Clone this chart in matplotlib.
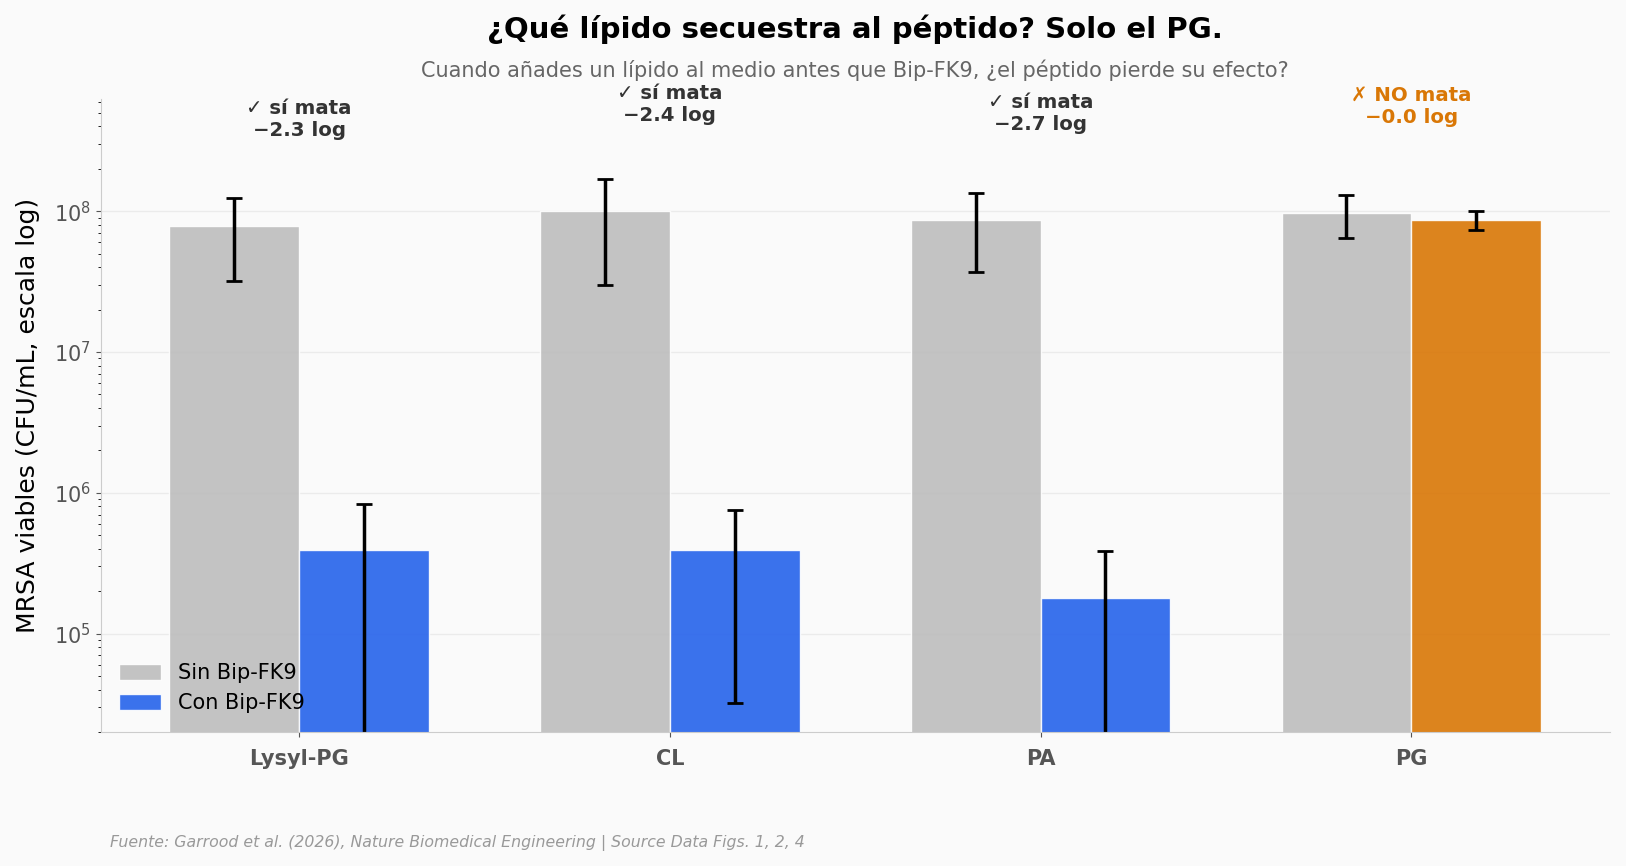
import numpy as np
import matplotlib
matplotlib.use("Agg")
import matplotlib.pyplot as plt

# data
lipids = ["Lysyl-PG", "CL", "PA", "PG"]
sin_mean = [7.8e7, 1.0e8, 8.6e7, 9.7e7]
sin_sd = [4.6e7, 7.0e7, 4.9e7, 3.3e7]
con_mean = [3.9e5, 3.92e5, 1.78e5, 8.7e7]
con_sd = [4.4e5, 3.6e5, 2.1e5, 1.35e7]

GRAY = "#BDBDBD"
BLUE = "#2563EB"
ORANGE = "#D97706"
BG = "#FAFAFA"

plt.rcParams["font.family"] = ["DejaVu Sans"]

fig = plt.figure(figsize=(16.26, 8.66), dpi=100, facecolor=BG)
ax = fig.add_axes([0.0619, 0.1547, 0.9281, 0.7315])
ax.set_facecolor(BG)

x = np.arange(len(lipids))
w = 0.35
con_colors = [ORANGE if l == "PG" else BLUE for l in lipids]

err_kw = dict(elinewidth=2.5, capsize=6, capthick=2, ecolor="black")
ax.bar(x - w / 2, sin_mean, w, yerr=sin_sd, color=GRAY, alpha=0.9,
       edgecolor="white", linewidth=1, label="Sin Bip-FK9", error_kw=err_kw)
ax.bar(x + w / 2, con_mean, w, yerr=con_sd, color=con_colors, alpha=0.9,
       edgecolor="white", linewidth=1, label="Con Bip-FK9", error_kw=err_kw)

ax.set_yscale("log")
ax.set_ylim(2.0e4, 6.3e8)
ax.yaxis.grid(True, which="major", color="#EBEBEB", linewidth=1)
ax.set_axisbelow(True)

# annotations: log reduction
for i, l in enumerate(lipids):
    red = np.log10(sin_mean[i] / con_mean[i])
    if red > 0.5:
        txt = f"\u2713 sí mata\n\u2212{red:.1f} log"
        c = "#333333"
    else:
        txt = f"\u2717 NO mata\n\u2212{red:.1f} log"
        c = ORANGE
    ax.text(x[i], sin_mean[i] * 5.7, txt, ha="center", va="center",
            fontsize=14.2, fontweight="bold", color=c, linespacing=1.2)

ax.set_xticks(x)
ax.set_xticklabels(lipids, fontsize=15, fontweight="bold", color="#555555")
ax.tick_params(axis="y", labelsize=15, labelcolor="#555555", color="#555555")
ax.tick_params(axis="x", color="#555555", pad=9)
ax.set_ylabel("MRSA viables (CFU/mL, escala log)", fontsize=18, labelpad=10)

for s in ["top", "right"]:
    ax.spines[s].set_visible(False)
for s in ["left", "bottom"]:
    ax.spines[s].set_color("#CCCCCC")

leg = ax.legend(loc="lower left", frameon=False, fontsize=15,
                handlelength=2.0, handleheight=0.8, borderaxespad=0.5)

cx = 0.0619 + 0.9281 / 2
fig.text(cx, 0.9665, "¿Qué lípido secuestra al péptido? Solo el PG.",
         ha="center", va="center", fontsize=21, fontweight="bold")
fig.text(cx, 0.9186, "Cuando añades un lípido al medio antes que Bip-FK9, ¿el péptido pierde su efecto?",
         ha="center", va="center", fontsize=15, color="#666666")
fig.text(0.0677, 0.026, "Fuente: Garrood et al. (2026), Nature Biomedical Engineering | Source Data Figs. 1, 2, 4",
         ha="left", va="center", fontsize=11.3, style="italic", color="#999999")

fig.savefig("out.png", dpi=100, facecolor=BG)
